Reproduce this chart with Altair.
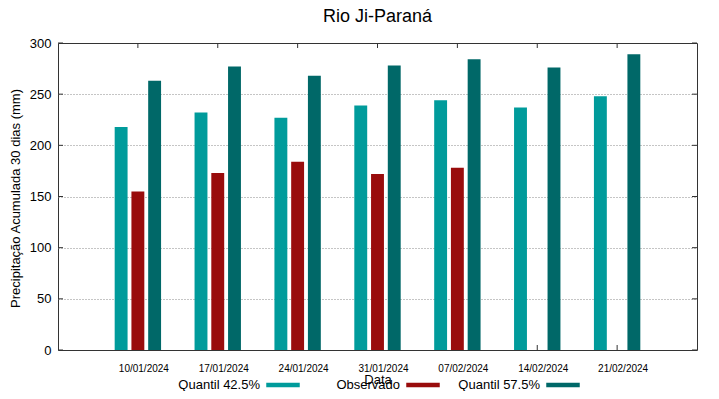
import altair as alt
import pandas as pd

# ---- data ----
dates = ["10/01/2024", "17/01/2024", "24/01/2024", "31/01/2024",
         "07/02/2024", "14/02/2024", "21/02/2024"]
series = ["Quantil 42.5%", "Observado", "Quantil 57.5%"]
colors = ["#009b9b", "#990c0c", "#006868"]
q425 = [218, 232, 227, 239, 244, 237, 248]
observado = [155, 173, 184, 172, 178, None, None]
q575 = [263, 277, 268, 278, 284, 276, 289]
y_ticks = [0, 50, 100, 150, 200, 250, 300]

W, H = 639, 307
FONT = "Liberation Sans"
BORDER = "#333333"

rows = []
for name, vals in zip(series, [q425, observado, q575]):
    for d, v in zip(dates, vals):
        rows.append({"date": d, "serie": name, "valor": v})
df = pd.DataFrame(rows)
df_dates = pd.DataFrame({"date": dates})
df_yt = pd.DataFrame({"valor": y_ticks})

x_scale = alt.Scale(domain=dates, paddingInner=0, paddingOuter=0.5)
y_scale = alt.Scale(domain=[0, 300], nice=False, zero=True)

x_axis = alt.Axis(
    ticks=False, domain=False, labelAngle=0, labelFontSize=10, labelOffset=6,
    labelPadding=13, labelColor="black", grid=False,
    title="Data", titleFontSize=13, titleFontWeight="normal", titleColor="black",
    titleY=33, titleBaseline="alphabetic",
)
y_axis = alt.Axis(
    values=y_ticks, ticks=False, domain=False, labelFontSize=13, labelPadding=7,
    labelColor="black", grid=True, gridDash=[1, 2], gridColor="#8a8a8a",
    gridOpacity={"condition": {"test": "datum.value == 0 || datum.value == 300", "value": 0}, "value": 1},
    title="Precipitação Acumulada 30 dias (mm)", titleFontSize=13,
    titleFontWeight="normal", titleColor="black", titleX=-43, titleY=155,
    titleBaseline="middle", titleAngle=270,
)

x_enc = alt.X("date:N", sort=dates, scale=x_scale, axis=x_axis, title="Data")
y_enc = alt.Y("valor:Q", scale=y_scale, axis=y_axis, title="Precipitação Acumulada 30 dias (mm)")

# inner tick marks (gnuplot style)
xt_bottom = alt.Chart(df_dates).mark_rule(color=BORDER).encode(
    x=x_enc, y=alt.value(H), y2=alt.value(H - 5))
xt_top = alt.Chart(df_dates).mark_rule(color=BORDER).encode(
    x=x_enc, y=alt.value(0), y2=alt.value(5))
yt_left = alt.Chart(df_yt).mark_rule(color=BORDER).encode(
    y=y_enc, x=alt.value(0), x2=alt.value(5))
yt_right = alt.Chart(df_yt).mark_rule(color=BORDER).encode(
    y=y_enc, x=alt.value(W - 5), x2=alt.value(W))

bars = alt.Chart(df).mark_bar(opacity=1).encode(
    x=x_enc,
    xOffset=alt.XOffset("serie:N", sort=series,
                        scale=alt.Scale(paddingInner=0.23, paddingOuter=1)),
    y=y_enc,
    color=alt.Color(
        "serie:N",
        scale=alt.Scale(domain=series, range=colors),
        legend=alt.Legend(
            title=None, orient="none", legendX=208, legendY=325,
            direction="horizontal", columns=3, gridAlign="all", columnPadding=18,
            symbolType="M-1,-0.13L1,-0.13L1,0.13L-1,0.13Z", symbolSize=1122,
            symbolStrokeWidth=0, symbolOpacity=1,
            labelAlign="right", labelOffset={"expr": "-40"}, labelFontSize=13,
            labelFont=FONT, labelColor="black", labelLimit=0, padding=0,
        ),
    ),
)

chart = alt.layer(xt_bottom, xt_top, yt_left, yt_right, bars).properties(
    width=W, height=H,
    title=alt.TitleParams("Rio Ji-Paraná", fontSize=18, font=FONT,
                          fontWeight="normal", color="black", anchor="middle",
                          frame="group", offset=11),
    padding={"left": 50, "top": 35, "right": 14, "bottom": 41},
    autosize=alt.AutoSizeParams(type="none"),
).configure(font=FONT).configure_view(stroke=BORDER, strokeWidth=1)

chart.save("out.html", embed_options={"renderer": "svg", "actions": False})
